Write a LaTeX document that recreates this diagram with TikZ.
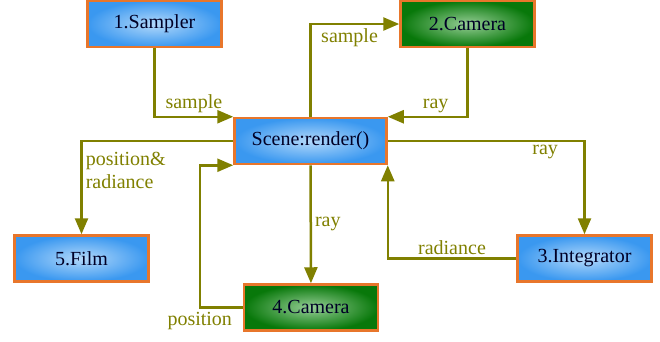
\documentclass[tikz,border=0pt]{standalone}
\usepackage{fontspec}
\setmainfont{Liberation Serif}
\usetikzlibrary{arrows.meta}
\definecolor{olivepath}{RGB}{128,128,0}
\definecolor{edgeorange}{RGB}{232,118,43}
\definecolor{boxblue}{RGB}{58,152,240}
\definecolor{boxbluelight}{RGB}{178,216,250}
\definecolor{boxgreen}{RGB}{8,120,10}
\definecolor{boxgreenlight}{RGB}{150,206,150}
\begin{document}
\begin{tikzpicture}[x=1pt, y=-1pt, font=\fontsize{20}{23}\selectfont,
    box/.style = {rectangle, draw=edgeorange, line width=2.5pt, minimum width=134pt, minimum height=46pt, text=black!85!blue, inner sep=0pt},
    bluebox/.style = {box, inner color=boxbluelight, outer color=boxblue},
    greenbox/.style = {box, inner color=boxgreenlight, outer color=boxgreen},
    flow/.style = {draw=olivepath, line width=2.5pt, -{Triangle[length=16pt, width=13pt]}},
    lbl/.style = {text=olivepath, inner sep=3pt}]
    \useasboundingbox (0,0) rectangle (660,341);

    \node[bluebox] (smp) at (154.5,24) {1.Sampler};
    \node[greenbox] (camA) at (467.5,24) {2.Camera};
    \node[bluebox, minimum width=152pt] (scn) at (310.5,141) {Scene:render()};
    \node[bluebox] (film) at (81.5,258.5) {5.Film};
    \node[greenbox] (camB) at (311,307.5) {4.Camera};
    \node[bluebox] (integ) at (584.5,258.5) {3.Integrator};

    \draw[flow] (smp) |- node[lbl, pos=0.75, above] {sample} (scn.north west);
    \draw[flow] (scn) |- node[lbl, pos=0.72, below] {sample} (camA);
    \draw[flow] (camA) |- node[lbl, pos=0.7, above] {ray} (scn.north east);
    \draw[flow] (scn) -| node[lbl, pos=0.66, right, align=left] {position\&\\radiance} (film);
    \draw[flow] (camB.west) -- ++(-43,0) node[lbl, below] {position} |- (scn.south west);
    \draw[flow] (scn) -- node[lbl, right] {ray} (camB);
    \draw[flow] (scn) -| node[lbl, pos=0.4, below] {ray} (integ);
    \draw[flow] (integ) -| node[lbl, pos=0.25, above] {radiance} (scn.south east);
  \end{tikzpicture}
\end{document}
